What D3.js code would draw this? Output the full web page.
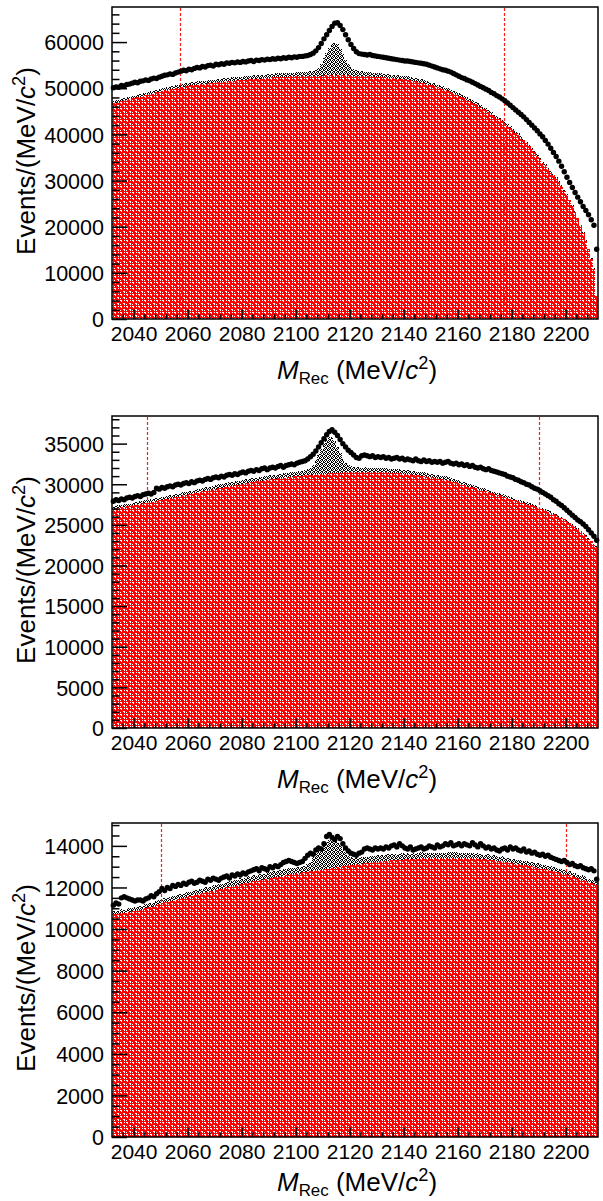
<!DOCTYPE html>
<html>
<head>
<meta charset="utf-8">
<script src="https://cdn.jsdelivr.net/npm/d3@7"></script>
<style>
  body { margin: 0; background: #fff; }
  svg { display: block; }
  text { font-family: "Liberation Sans", Arial, Helvetica, sans-serif; fill: #000; }
</style>
</head>
<body>
<svg id="chart" width="603" height="1201"></svg>
<script>
// Recoil-mass spectra, 1 MeV bins from 2032 to 2212 MeV.
const binLow = 2032;
const binWidth = 1;
const xTickValues = [2040, 2060, 2080, 2100, 2120, 2140, 2160, 2180, 2200];

// ---- Panel 1 ----
const data1 = [
  50100,50300,50200,50600,50500,50800,50900,51100,51300,51200,
  51500,51600,51800,51700,52000,52200,52100,52400,52600,52800,
  52900,53100,53000,53300,53500,53700,53900,53800,54100,54000,
  54300,54500,54400,54700,54600,54900,55000,54800,55200,55100,
  55300,55200,55500,55400,55600,55500,55700,55600,55800,55700,
  55900,56000,55800,56100,56000,56200,56100,56300,56200,56400,
  56300,56500,56400,56600,56500,56700,56600,56800,56700,56900,
  56900,57000,57100,57300,57600,58100,58800,59700,60700,61600,
  62500,63400,64100,64200,63600,62700,61600,60500,59500,58600,
  57900,57500,57400,57300,57200,57300,57100,57000,56900,56800,
  56700,56600,56500,56400,56300,56200,56100,56000,55900,55900,
  55800,55700,55600,55500,55400,55300,55200,55000,54800,54600,
  54400,54200,54000,53900,53700,53500,53200,52900,52600,52300,
  52100,51800,51600,51300,51000,50700,50400,50100,49800,49500,
  49100,48800,48400,48100,47700,47300,46800,46300,45800,45300,
  44800,44300,43800,43200,42600,42000,41400,40800,40100,39500,
  38700,37900,37000,36100,35200,34200,33100,31900,30700,29600,
  28500,27400,26400,25400,24400,23500,22600,21500,20300,15100
];
const bkg1 = [
  46750,46900,47050,47200,47350,47500,47650,47800,47900,48050,
  48200,48350,48500,48650,48800,48950,49100,49250,49400,49550,
  49700,49800,49900,50000,50100,50200,50300,50400,50500,50600,
  50700,50800,50900,50950,51000,51100,51150,51200,51300,51350,
  51400,51450,51500,51550,51600,51650,51700,51750,51800,51850,
  51900,51950,52000,52050,52100,52150,52200,52250,52300,52350,
  52400,52400,52450,52450,52500,52500,52550,52550,52600,52600,
  52650,52650,52700,52700,52700,52750,52750,52750,52800,52800,
  52800,52800,52800,52800,52800,52800,52800,52800,52750,52750,
  52700,52700,52650,52650,52600,52600,52550,52500,52450,52400,
  52350,52300,52250,52200,52150,52100,52050,52000,51900,51800,
  51700,51600,51500,51350,51200,51050,50900,50750,50600,50400,
  50200,50000,49800,49600,49400,49150,48900,48650,48400,48100,
  47800,47500,47200,46900,46600,46250,45900,45550,45200,44850,
  44450,44050,43650,43250,42800,42350,41900,41400,40900,40400,
  39850,39300,38750,38150,37500,36850,36150,35400,34650,33850,
  33300,32600,31900,31200,30500,29700,28800,27800,26800,25700,
  24500,23200,21800,20300,18700,17000,15100,13100,10900,5000
];
const sig1 = [
  450,450,500,450,500,500,450,500,500,550,
  500,550,550,500,550,600,550,600,600,550,
  600,600,650,600,650,600,650,650,600,650,
  650,700,650,700,650,700,700,650,700,700,
  700,750,700,700,750,700,750,750,700,750,
  750,750,800,750,750,800,750,800,800,750,
  800,800,750,800,800,850,800,800,850,850,
  850,900,900,950,1000,1200,1700,2600,3700,4900,
  6000,6700,7000,6700,5800,4600,3400,2500,1800,1400,
  1200,1100,1000,950,900,900,850,850,850,800,
  800,800,800,750,800,750,750,750,700,750,
  700,700,700,650,700,650,650,650,600,650,
  600,600,600,550,600,550,550,550,500,550,
  500,500,500,450,500,450,450,450,450,400,
  400,400,400,400,350,400,350,350,350,350,
  350,300,300,300,300,300,300,250,250,250,
  250,250,250,200,200,200,200,200,200,150,
  150,150,150,150,100,100,100,100,100,50
];
const yMax1 = 67600;
const yMajor1 = [0, 10000, 20000, 30000, 40000, 50000, 60000];
const yMinorStep1 = 2000;
const cuts1 = [2057, 2177];

// ---- Panel 2 ----
const data2 = [
  27900,28100,28000,28200,28100,28300,28400,28300,28500,28600,
  28500,28700,28800,28900,28800,29000,29500,29400,29600,29500,
  29700,29800,29700,29900,30000,29900,30100,30200,30100,30300,
  30200,30400,30500,30400,30600,30700,30600,30800,30900,30800,
  31000,30900,31100,31200,31100,31300,31200,31400,31500,31400,
  31600,31700,31600,31800,31700,31900,32000,31800,32000,32100,
  32000,32200,32300,32100,32300,32400,32500,32400,32600,32700,
  32800,32900,33100,33400,33700,34100,34600,35100,35600,36100,
  36500,36700,36400,36000,35500,35000,34600,34200,33900,33600,
  33300,33200,33500,33600,33500,33400,33500,33300,33400,33300,
  33400,33200,33300,33100,33200,33300,33100,33200,33000,33100,
  33000,32900,33100,32900,32800,33000,32800,32900,32700,32800,
  32700,32800,32600,32700,32800,32600,32500,32600,32400,32500,
  32300,32400,32200,32300,32100,32000,32100,31900,31800,31900,
  31700,31600,31500,31400,31300,31200,31000,30900,30800,30600,
  30500,30300,30200,30000,29900,29700,29500,29400,29200,29000,
  28800,28600,28400,28100,27900,27600,27400,27100,26800,26500,
  26200,25900,25600,25400,25100,24800,24400,24000,23600,23100
];
const bkg2 = [
  27000,27060,27120,27180,27240,27300,27360,27420,27480,27540,
  27600,27660,27720,27780,27840,27900,27960,28020,28080,28140,
  28200,28270,28340,28410,28480,28550,28620,28690,28760,28830,
  28900,28970,29040,29110,29180,29250,29320,29390,29460,29530,
  29590,29650,29710,29770,29830,29890,29950,30010,30070,30130,
  30190,30250,30300,30350,30400,30450,30500,30550,30600,30640,
  30680,30720,30760,30800,30840,30880,30920,30960,31000,31030,
  31060,31090,31120,31150,31180,31210,31240,31270,31300,31320,
  31340,31360,31380,31400,31420,31440,31450,31460,31470,31480,
  31490,31500,31500,31500,31500,31500,31500,31490,31480,31470,
  31460,31450,31430,31410,31390,31370,31340,31310,31280,31250,
  31220,31180,31140,31100,31050,31000,30950,30900,30850,30790,
  30730,30680,30620,30560,30490,30420,30320,30220,30120,30020,
  29920,29820,29720,29620,29520,29420,29320,29220,29120,29020,
  28920,28820,28720,28620,28520,28420,28320,28220,28120,28020,
  27920,27820,27720,27610,27500,27390,27280,27160,27040,26910,
  26780,26640,26500,26350,26190,26020,25850,25670,25480,25280,
  25000,24750,24480,24200,23900,23600,23290,22970,22640,22300
];
const sig2 = [
  250,250,300,250,300,300,250,300,300,300,
  300,300,350,300,300,350,350,300,350,350,
  350,350,350,400,350,350,400,400,350,400,
  400,400,400,400,450,400,400,450,400,450,
  450,400,450,450,450,450,500,450,450,500,
  450,500,500,450,500,500,500,500,500,550,
  500,550,500,550,550,550,550,600,550,600,
  600,650,700,850,1200,1800,2500,3100,3700,4200,
  4500,4400,3900,3200,2400,1700,1200,900,750,650,
  600,600,550,600,550,550,550,550,500,550,
  500,550,500,500,500,500,500,450,500,450,
  450,450,450,450,400,450,400,400,400,400,
  400,400,350,400,350,350,350,350,350,300,
  300,300,300,300,300,300,250,300,250,250,
  250,250,250,250,250,200,250,200,200,200,
  200,200,200,200,200,150,200,150,150,150,
  150,150,150,150,150,100,150,100,100,100,
  100,100,100,100,100,100,50,100,50,50
];
const yMax2 = 38400;
const yMajor2 = [0, 5000, 10000, 15000, 20000, 25000, 30000, 35000];
const yMinorStep2 = 1000;
const cuts2 = [2045, 2190];

// ---- Panel 3 ----
const data3 = [
  11150,11250,11200,11500,11550,11500,11450,11400,11350,11400,
  11400,11350,11450,11500,11600,11550,11700,11800,11950,11850,
  12000,11950,12100,12050,12150,12100,12200,12150,12250,12300,
  12200,12250,12350,12300,12250,12400,12350,12450,12400,12350,
  12450,12500,12550,12450,12600,12550,12650,12600,12700,12650,
  12750,12800,12850,12900,12800,12950,12900,12850,13000,12950,
  13050,13000,13100,13200,13250,13300,13250,13200,13150,13200,
  13250,13400,13550,13650,13600,13800,13900,13850,14100,14450,
  14550,14400,14300,14450,14350,14100,13900,13750,13650,13600,
  13550,13650,13700,13850,13900,13850,13800,13900,13850,13900,
  13850,13950,13900,14000,14050,13950,14100,14000,13900,13850,
  13950,13800,13850,13900,13950,13850,13900,14000,13950,13900,
  14050,13950,14000,14100,14050,14150,14000,14050,14100,14000,
  14100,14050,14000,14150,14050,13950,14100,14000,13900,13950,
  13850,13900,13800,13750,13850,13900,13800,13950,13850,13900,
  13800,13750,13850,13700,13750,13650,13700,13600,13550,13600,
  13500,13550,13450,13400,13350,13300,13250,13300,13200,13100,
  13150,13050,13000,13050,12950,12900,12850,12900,12800,12400
];
const bkg3 = [
  10700,10720,10740,10760,10780,10800,10820,10850,10870,10900,
  10930,10960,11000,11040,11080,11120,11160,11200,11240,11280,
  11310,11340,11370,11400,11440,11470,11500,11540,11570,11600,
  11640,11670,11700,11730,11760,11790,11820,11850,11880,11910,
  11940,11970,12000,12030,12060,12090,12120,12150,12180,12210,
  12230,12260,12290,12310,12340,12370,12390,12420,12450,12470,
  12500,12520,12550,12570,12600,12620,12640,12660,12680,12700,
  12720,12740,12760,12780,12800,12820,12840,12860,12880,12900,
  12920,12940,12960,12980,13000,13020,13040,13060,13080,13090,
  13110,13130,13150,13160,13180,13200,13210,13230,13240,13260,
  13270,13280,13290,13300,13310,13320,13330,13340,13350,13360,
  13370,13380,13380,13390,13400,13400,13410,13410,13420,13420,
  13430,13430,13430,13430,13440,13440,13440,13440,13430,13430,
  13430,13420,13420,13410,13400,13390,13380,13370,13360,13340,
  13330,13310,13290,13270,13250,13230,13210,13190,13170,13150,
  13130,13110,13080,13060,13040,13010,12990,12960,12930,12900,
  12870,12840,12810,12780,12750,12720,12690,12650,12620,12580,
  12540,12500,12460,12420,12380,12330,12280,12230,12170,12110
];
const sig3 = [
  150,150,150,200,150,150,200,150,200,150,
  200,150,200,200,150,200,200,200,150,200,
  200,200,200,200,250,200,200,250,200,200,
  250,200,250,200,250,250,200,250,250,250,
  250,250,250,300,250,250,250,300,250,250,
  300,250,300,250,300,300,250,300,300,300,
  300,300,300,300,300,300,300,300,300,300,
  300,300,350,450,650,850,1000,1100,1200,1300,
  1350,1350,1300,1200,1050,850,650,500,400,350,
  300,300,300,300,300,300,300,300,300,300,
  300,300,300,300,300,250,300,300,250,300,
  250,300,250,250,300,250,250,250,250,250,
  250,250,250,250,250,250,250,250,250,250,
  250,250,250,250,200,250,250,200,250,250,
  200,250,200,200,250,200,200,200,200,200,
  200,200,200,200,200,200,200,200,200,200,
  200,200,200,200,200,150,200,200,150,200,
  150,200,150,150,200,150,150,150,150,150
];
const yMax3 = 15100;
const yMajor3 = [0, 2000, 4000, 6000, 8000, 10000, 12000, 14000];
const yMinorStep3 = 500;
const cuts3 = [2050, 2200];

// ---- Layout ----
const frameLeft = 112, frameRight = 598;
const panels = [
  { top: 7,   bottom: 319,  data: data1, bkg: bkg1, sig: sig1, yMax: yMax1, major: yMajor1, minorStep: yMinorStep1, cuts: cuts1, titleGap: 60 },
  { top: 416, bottom: 728,  data: data2, bkg: bkg2, sig: sig2, yMax: yMax2, major: yMajor2, minorStep: yMinorStep2, cuts: cuts2, titleGap: 60 },
  { top: 823, bottom: 1137, data: data3, bkg: bkg3, sig: sig3, yMax: yMax3, major: yMajor3, minorStep: yMinorStep3, cuts: cuts3, titleGap: 54 }
];

const svg = d3.select("#chart");
const defs = svg.append("defs");

// Red fill with small white specks
const pr = defs.append("pattern").attr("id", "fillRed")
  .attr("patternUnits", "userSpaceOnUse").attr("width", 6).attr("height", 6);
pr.append("rect").attr("width", 6).attr("height", 6).attr("fill", "#ff0000").attr("shape-rendering", "crispEdges");
[[0,0],[1,0],[1,1],[3,3],[4,3],[4,4],[0,4],[4,0]].forEach(([px, py]) =>
  pr.append("rect").attr("x", px).attr("y", py).attr("width", 1).attr("height", 1)
    .attr("fill", "#fff").attr("shape-rendering", "crispEdges"));

// Black dotted hatch on white
const pb = defs.append("pattern").attr("id", "fillBlack")
  .attr("patternUnits", "userSpaceOnUse").attr("width", 4).attr("height", 4);
pb.append("rect").attr("width", 4).attr("height", 4).attr("fill", "#fff").attr("shape-rendering", "crispEdges");
[[0,0],[2,0],[1,1],[3,1],[0,2],[3,2],[1,3],[2,3]].forEach(([px, py]) =>
  pb.append("rect").attr("x", px).attr("y", py).attr("width", 1).attr("height", 1)
    .attr("fill", "#000").attr("shape-rendering", "crispEdges"));

const x = d3.scaleLinear().domain([binLow, binLow + binWidth * 180]).range([frameLeft, frameRight]);
const xMinorTicks = d3.range(2036, 2212, 4).filter(v => !xTickValues.includes(v));

function unitParen(sel) {
  // "(MeV/c²)" with italic c and superscript 2
  sel.append("tspan").text("(MeV/");
  sel.append("tspan").attr("font-style", "italic").text("c");
  sel.append("tspan").attr("font-size", "0.7em").attr("dy", "-0.55em").text("2");
  sel.append("tspan").attr("dy", "0.38em").text(")");
}

panels.forEach(p => {
  const y = d3.scaleLinear().domain([0, p.yMax]).range([p.bottom, p.top]);
  const g = svg.append("g");

  const totals = p.bkg.map((v, i) => v + p.sig[i]);
  const bins = p.bkg.map((v, i) => ({ x0: binLow + i * binWidth, lo: v, hi: totals[i] }));
  bins.push({ x0: binLow + bins.length * binWidth, lo: bins[bins.length - 1].lo, hi: bins[bins.length - 1].hi });

  // Signal component stacked on the background
  g.append("path")
    .datum(bins)
    .attr("fill", "url(#fillBlack)")
    .attr("shape-rendering", "crispEdges")
    .attr("d", d3.area().curve(d3.curveStepAfter).x(d => x(d.x0)).y0(d => y(d.lo)).y1(d => y(d.hi)));

  // Background component
  g.append("path")
    .datum(bins)
    .attr("fill", "url(#fillRed)")
    .attr("shape-rendering", "crispEdges")
    .attr("d", d3.area().curve(d3.curveStepAfter).x(d => x(d.x0)).y0(y(0)).y1(d => y(d.lo)));

  // Selection window
  g.selectAll("line.cut").data(p.cuts).join("line")
    .attr("class", "cut")
    .attr("x1", d => Math.round(x(d)) + 0.5).attr("x2", d => Math.round(x(d)) + 0.5)
    .attr("y1", p.top + 1).attr("y2", p.bottom)
    .attr("stroke", "#ff1a1a").attr("stroke-width", 1.2).attr("stroke-dasharray", "3,2");

  // Data points
  g.selectAll("circle").data(p.data).join("circle")
    .attr("cx", (d, i) => x(binLow + (i + 0.5) * binWidth))
    .attr("cy", d => y(d))
    .attr("r", 2.7)
    .attr("fill", "#000");

  // Frame
  g.append("rect")
    .attr("x", frameLeft).attr("y", p.top)
    .attr("width", frameRight - frameLeft).attr("height", p.bottom - p.top)
    .attr("fill", "none").attr("stroke", "#000").attr("stroke-width", 1.5);

  // Y axis
  const yMinor = d3.range(0, p.yMax, p.minorStep).filter(v => !p.major.includes(v));
  const yAxisMinor = d3.axisLeft(y).tickValues(yMinor).tickSize(-7.5).tickFormat("");
  g.append("g").attr("transform", `translate(${frameLeft},0)`).call(yAxisMinor)
    .call(s => s.select(".domain").remove())
    .selectAll("line").attr("stroke-width", 1.5);
  const yAxis = d3.axisLeft(y).tickValues(p.major).tickSize(-15).tickPadding(8).tickFormat(d3.format("d"));
  const ya = g.append("g").attr("transform", `translate(${frameLeft},0)`).call(yAxis);
  ya.select(".domain").remove();
  ya.selectAll("line").attr("stroke-width", 1.5);
  ya.selectAll("text").attr("font-size", 21.5).attr("dy", "0.36em")
    .attr("font-family", '"Liberation Sans", Arial, sans-serif');

  // X axis
  const xAxisMinor = d3.axisBottom(x).tickValues(xMinorTicks).tickSize(-4.7).tickFormat("");
  g.append("g").attr("transform", `translate(0,${p.bottom})`).call(xAxisMinor)
    .call(s => s.select(".domain").remove())
    .selectAll("line").attr("stroke-width", 1.5);
  const xAxis = d3.axisBottom(x).tickValues(xTickValues).tickSize(-9.4).tickPadding(7).tickFormat(d3.format("d"));
  const xa = g.append("g").attr("transform", `translate(0,${p.bottom})`).call(xAxis);
  xa.select(".domain").remove();
  xa.selectAll("line").attr("stroke-width", 1.5);
  xa.selectAll("text").attr("font-size", 21)
    .attr("font-family", '"Liberation Sans", Arial, sans-serif');

  // Axis titles
  const yt = svg.append("text")
    .attr("transform", `translate(35,${(p.top + p.bottom) / 2 - 2}) rotate(-90)`)
    .attr("text-anchor", "middle").attr("font-size", 26);
  yt.append("tspan").text("Events/");
  unitParen(yt);

  const xt = svg.append("text")
    .attr("x", (frameLeft + frameRight) / 2 + 2).attr("y", p.bottom + p.titleGap)
    .attr("text-anchor", "middle").attr("font-size", 26);
  xt.append("tspan").attr("font-style", "italic").text("M");
  xt.append("tspan").attr("font-size", "0.65em").attr("dy", "0.3em").text("Rec");
  xt.append("tspan").attr("dy", "-0.2em").text(" ");
  unitParen(xt);
});
</script>
</body>
</html>
